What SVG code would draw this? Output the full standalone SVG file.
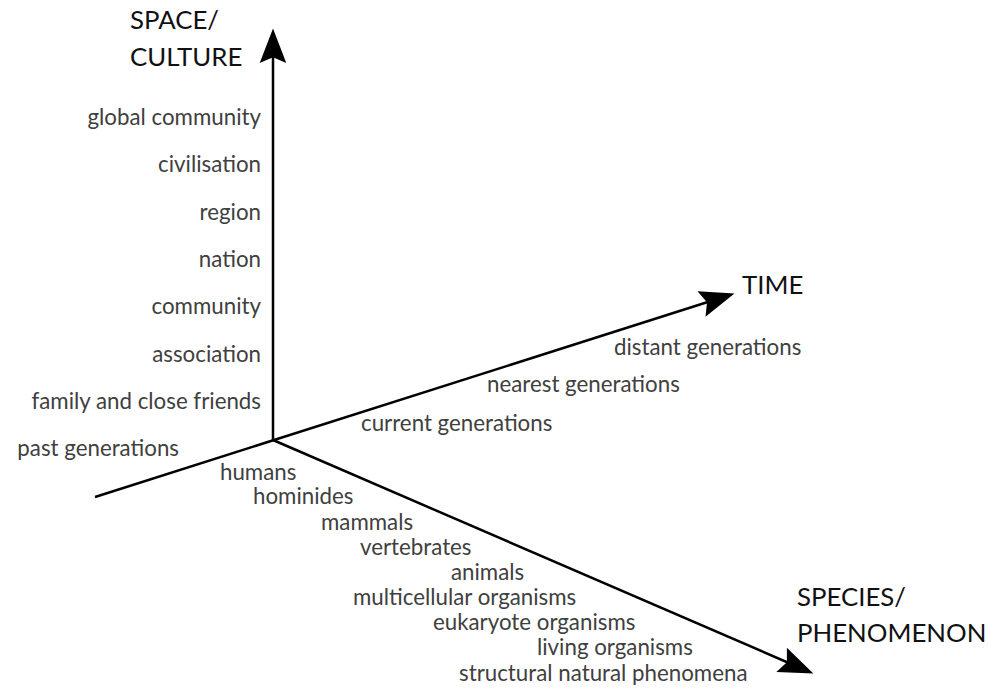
<svg xmlns="http://www.w3.org/2000/svg" width="988" height="688" viewBox="0 0 988 688">
<defs>
<style>
.ax{stroke:#000;stroke-width:2.5;fill:none}
.lb{font-family:Lato,"Open Sans","Liberation Sans",sans-serif;font-size:22.3px;fill:#404040}
.tt{font-family:Lato,"Open Sans","Liberation Sans",sans-serif;font-size:25.8px;fill:#111}
.r{text-anchor:end}
</style>
<marker id="ah" markerUnits="userSpaceOnUse" markerWidth="40" markerHeight="30" viewBox="-22 -13 34 26" refX="0" refY="0" orient="auto">
<path d="M10,0 L-20,-11.5 L-15,0 L-20,11.5 Z" fill="#000"/>
</marker>
</defs>
<rect width="988" height="688" fill="#fff"/>
<g id="connectors">
<line class="ax" x1="273" y1="440" x2="273" y2="40" marker-end="url(#ah)"/>
<line class="ax" x1="95" y1="497" x2="723.5" y2="297" marker-end="url(#ah)"/>
<line class="ax" x1="273" y1="440" x2="802.8" y2="669" marker-end="url(#ah)"/>
</g>
<g id="axis-space">
<text class="tt" x="130" y="29">SPACE/</text>
<text class="tt" x="130" y="66">CULTURE</text>
</g>
<g id="axis-time"><text class="tt" x="742" y="294">TIME</text></g>
<g id="axis-species">
<text class="tt" x="797" y="606">SPECIES/</text>
<text class="tt" x="797" y="642">PHENOMENON</text>
</g>
<g id="space-labels">
<text class="lb r" x="261" y="125">global community</text>
<text class="lb r" x="261" y="172">civilisation</text>
<text class="lb r" x="261" y="220">region</text>
<text class="lb r" x="261" y="267">nation</text>
<text class="lb r" x="261" y="314">community</text>
<text class="lb r" x="261" y="362">association</text>
<text class="lb r" x="261" y="409">family and close friends</text>
<text class="lb r" x="179" y="456">past generations</text>
</g>
<g id="time-labels">
<text class="lb" x="614" y="355">distant generations</text>
<text class="lb" x="487" y="392">nearest generations</text>
<text class="lb" x="361" y="431">current generations</text>
</g>
<g id="species-labels">
<text class="lb" x="220" y="480">humans</text>
<text class="lb" x="253" y="504">hominides</text>
<text class="lb" x="321" y="530">mammals</text>
<text class="lb" x="360" y="555">vertebrates</text>
<text class="lb" x="451" y="580">animals</text>
<text class="lb" x="353" y="605">multicellular organisms</text>
<text class="lb" x="433" y="630">eukaryote organisms</text>
<text class="lb" x="537" y="655">living organisms</text>
<text class="lb" x="459" y="681">structural natural phenomena</text>
</g>
</svg>
